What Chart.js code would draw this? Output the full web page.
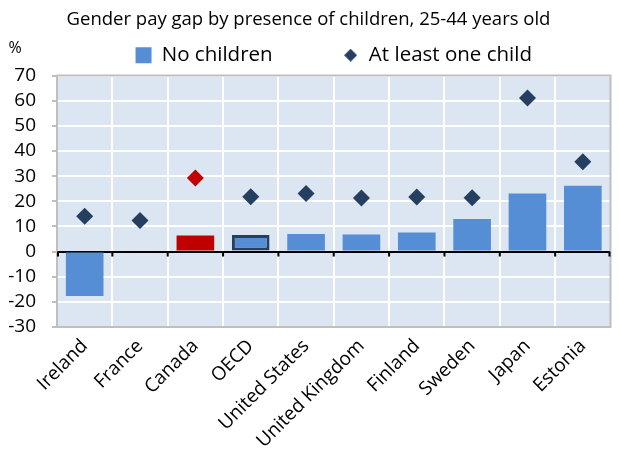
<!DOCTYPE html>
<html>
<head>
<meta charset="utf-8">
<script src="https://cdn.jsdelivr.net/npm/chart.js@4/dist/chart.umd.min.js"></script>
<style>
  html, body { margin: 0; padding: 0; background: #fff; }
  #wrap { width: 619px; height: 450px; position: relative; }
</style>
</head>
<body>
<div id="wrap"><canvas id="chart"></canvas></div>
<script>
// Gender pay gap by presence of children, 25-44 years old
const countries = ['Ireland', 'France', 'Canada', 'OECD', 'United States', 'United Kingdom', 'Finland', 'Sweden', 'Japan', 'Estonia'];
const noChildren = [-17.7, 0.4, 6.4, 6.6, 7.0, 6.8, 7.6, 12.9, 23.1, 26.2];
const atLeastOneChild = [14.0, 12.3, 29.2, 21.8, 23.1, 21.3, 21.7, 21.4, 61.1, 35.7];
const yTicksMin = -30;
const yTicksMax = 70;
const yTickStep = 10;

const FONT = '"Open Sans", Lato, "DejaVu Sans", sans-serif';
const BLUE = '#558ED5';
const NAVY = '#243F60';
const RED = '#C00000';

// highlight colours
const barColors = countries.map(c => c === 'Canada' ? RED : BLUE);
const barBorderWidths = countries.map(c => c === 'OECD' ? 3 : 0);
const diamondColors = countries.map(c => c === 'Canada' ? RED : NAVY);

// small diamond for the legend
const legendDiamond = document.createElement('canvas');
legendDiamond.width = 13;
legendDiamond.height = 13;
(function () {
    const g = legendDiamond.getContext('2d');
    g.fillStyle = NAVY;
    g.beginPath();
    g.moveTo(6.5, 0);
    g.lineTo(13, 6.5);
    g.lineTo(6.5, 13);
    g.lineTo(0, 6.5);
    g.closePath();
    g.fill();
})();

const plotDecor = {
    id: 'plotDecor',
    beforeDraw(chart) {
        const { ctx, chartArea: a } = chart;
        ctx.save();
        ctx.fillStyle = '#DCE6F2';
        ctx.fillRect(a.left, a.top, a.right - a.left, a.bottom - a.top);
        ctx.restore();
    },
    beforeDatasetsDraw(chart) {
        const { ctx, chartArea: a, scales } = chart;
        ctx.save();
        // border of plot area
        ctx.strokeStyle = '#BFBFBF';
        ctx.lineWidth = 2;
        ctx.strokeRect(a.left, a.top, a.right - a.left, a.bottom - a.top);
        // tick marks on the zero line
        const y0 = scales.y.getPixelForValue(0);
        ctx.strokeStyle = '#000';
        ctx.lineWidth = 2;
        for (let i = 0; i <= countries.length; i++) {
            const x = Math.min(a.right - 1, Math.max(a.left + 1, scales.x.getPixelForValue(i - 0.5)));
            ctx.beginPath();
            ctx.moveTo(x, y0);
            ctx.lineTo(x, y0 + 5);
            ctx.stroke();
        }
        ctx.restore();
    },
    afterDraw(chart) {
        const { ctx, chartArea: a } = chart;
        ctx.save();
        ctx.fillStyle = '#000';
        ctx.font = '16px ' + FONT;
        ctx.textAlign = 'center';
        ctx.textBaseline = 'middle';
        ctx.fillText('%', a.left - 42, a.top - 27);
        ctx.restore();
    }
};

new Chart(document.getElementById('chart'), {
    type: 'bar',
    data: {
        labels: countries,
        datasets: [{
            type: 'bar',
            label: 'No children',
            data: noChildren,
            backgroundColor: barColors,
            borderColor: NAVY,
            borderWidth: barBorderWidths,
            borderSkipped: false,
            categoryPercentage: 1,
            barPercentage: 0.68
        }, {
            type: 'line',
            label: 'At least one child',
            data: atLeastOneChild,
            showLine: false,
            pointStyle: 'rectRot',
            pointRadius: 8.5,
            pointHoverRadius: 8.5,
            pointBackgroundColor: diamondColors,
            pointBorderWidth: 0
        }]
    },
    options: {
        responsive: true,
        maintainAspectRatio: false,
        animation: false,
        // top pulled up so the wide legend padding does not push the plot down
        layout: { padding: { right: 2, bottom: 0, top: -25, left: 0 } },
        plugins: {
            title: {
                display: true,
                text: 'Gender pay gap by presence of children, 25-44 years old',
                color: '#000',
                font: { family: FONT, size: 18.5, weight: 'normal', lineHeight: 1.2 },
                padding: { top: 34, bottom: -56.2 }
            },
            legend: {
                position: 'top',
                fullSize: false,
                labels: {
                    color: '#000',
                    font: { family: FONT, size: 20.5 },
                    usePointStyle: true,
                    boxWidth: 16,
                    boxHeight: 16,
                    padding: 70,
                    generateLabels(chart) {
                        return chart.data.datasets.map((ds, i) => ({
                            text: ds.label,
                            fillStyle: BLUE,
                            strokeStyle: BLUE,
                            lineWidth: 0,
                            pointStyle: i === 0 ? 'rect' : legendDiamond,
                            hidden: false,
                            datasetIndex: i
                        }));
                    }
                }
            },
            tooltip: { enabled: false }
        },
        scales: {
            x: {
                offset: true,
                grid: {
                    offset: true,
                    color: '#FFFFFF',
                    lineWidth: 2,
                    drawTicks: false
                },
                border: { display: false },
                ticks: {
                    color: '#000',
                    font: { family: FONT, size: 19 },
                    minRotation: 45,
                    maxRotation: 45,
                    autoSkip: false,
                    padding: 8
                },
                afterFit(scale) { scale.height = 123; }
            },
            y: {
                min: yTicksMin,
                max: yTicksMax,
                grid: {
                    color: ctx => ctx.tick && ctx.tick.value === 0 ? '#000000' : '#FFFFFF',
                    lineWidth: 2,
                    tickColor: '#BFBFBF',
                    tickLength: 5
                },
                border: { display: false },
                ticks: {
                    stepSize: yTickStep,
                    autoSkip: false,
                    color: '#000',
                    font: { family: FONT, size: 19 },
                    padding: 16
                },
                afterFit(scale) { scale.width = 57; }
            }
        }
    },
    plugins: [plotDecor]
});
</script>
</body>
</html>
